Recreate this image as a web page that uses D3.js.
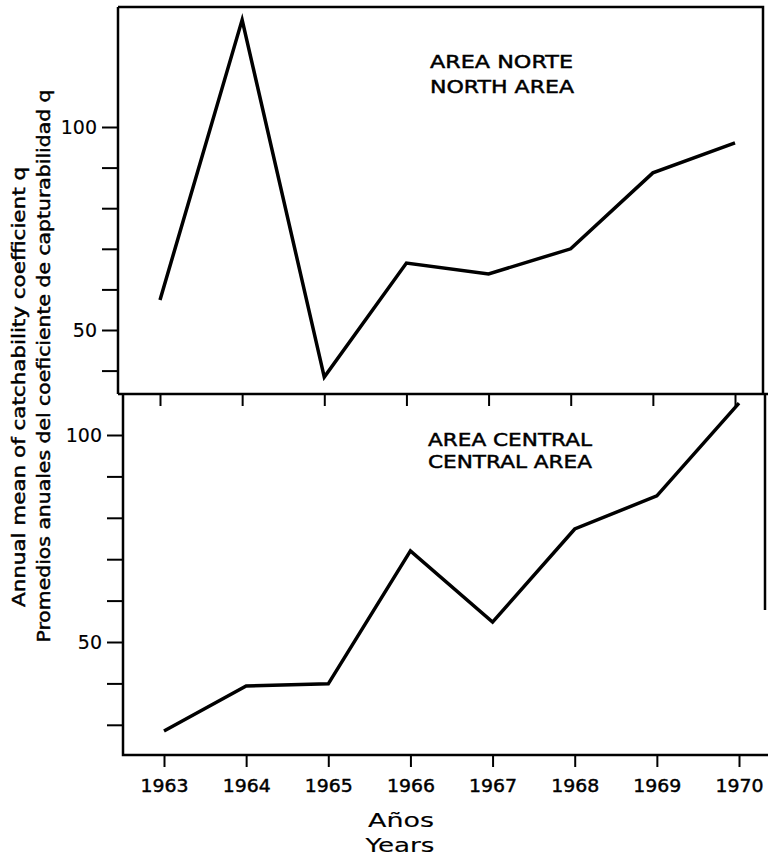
<!DOCTYPE html>
<html>
<head>
<meta charset="utf-8">
<script src="https://cdn.jsdelivr.net/npm/d3@7"></script>
<style>
  html, body { margin: 0; padding: 0; background: #fff; }
  svg { display: block; }
  text { font-family: "DejaVu Sans", sans-serif; fill: #000; stroke: #000; stroke-width: 0.45px; }
  text.thin { stroke-width: 0.15px; }
</style>
</head>
<body>
<svg id="chart" width="768" height="863"></svg>
<script>
// ---- data ----
const years = [1963, 1964, 1965, 1966, 1967, 1968, 1969, 1970];
const northValues = [57.4, 126.4, 38.4, 66.5, 63.8, 70.0, 88.7, 96.1];
const centralValues = [28.5, 39.4, 39.9, 72.0, 54.8, 77.3, 85.3, 107.7];
const northYTicks = [40, 50, 60, 70, 80, 90, 100];
const centralYTicks = [30, 40, 50, 60, 70, 80, 90, 100];
const labeledYTicks = [50, 100];
const northLabel = ["AREA NORTE", "NORTH AREA"];
const centralLabel = ["AREA CENTRAL", "CENTRAL AREA"];
const yTitle = ["Annual mean of catchability coefficient q",
                "Promedios anuales del coeficiente de capturabilidad q"];
const xTitle = ["Años", "Years"];

const svg = d3.select("#chart");

// ---- scales ----
const xTop = d3.scaleLinear().domain([1963, 1970]).range([160, 735]);
const xBot = d3.scaleLinear().domain([1963, 1970]).range([164, 739]);
const yTop = d3.scaleLinear().domain([50, 100]).range([330, 127]);
const yBot = d3.scaleLinear().domain([50, 100]).range([642, 435]);

// ---- frames ----
const frame = svg.append("g").attr("fill", "none").attr("stroke", "#000").attr("stroke-width", 2.5);
frame.append("path").attr("d", "M118,7 L763,7 L763,394 M118,7 L118,394 M118,394 L768,394");
frame.append("path").attr("d", "M123,394 L123,755 L768,755 M765,394 L765,610");

// ---- y axes ----
function yAxis(scale, ticks, xPos) {
  const g = svg.append("g").attr("transform", `translate(${xPos},0)`)
    .call(d3.axisLeft(scale).tickValues(ticks).tickSize(16).tickPadding(5)
      .tickFormat(d => labeledYTicks.includes(d) ? d : ""));
  g.select(".domain").remove();
  g.selectAll(".tick line").attr("stroke", "#000").attr("stroke-width", 2);
  g.selectAll(".tick text").attr("class", "thin").attr("font-size", 19).attr("font-family", "DejaVu Sans");
}
yAxis(yTop, northYTicks, 118);
yAxis(yBot, centralYTicks, 123);

// ---- x axes ----
const gxTop = svg.append("g").attr("transform", "translate(0,394)")
  .call(d3.axisBottom(xTop).tickValues(years).tickSize(12).tickFormat(""));
gxTop.select(".domain").remove();
gxTop.selectAll(".tick line").attr("stroke", "#000").attr("stroke-width", 2);

const gxBot = svg.append("g").attr("transform", "translate(0,755)")
  .call(d3.axisBottom(xBot).tickValues(years).tickSize(12).tickFormat(d3.format("d")));
gxBot.select(".domain").remove();
gxBot.selectAll(".tick line").attr("stroke", "#000").attr("stroke-width", 2);
gxBot.selectAll(".tick text").attr("y", 37).attr("dy", 0)
  .attr("font-size", 18).attr("font-family", "DejaVu Sans")
  .attr("textLength", 48).attr("lengthAdjust", "spacingAndGlyphs");

// ---- lines ----
const lineTop = d3.line().x((d, i) => xTop(years[i])).y(d => yTop(d));
const lineBot = d3.line().x((d, i) => xBot(years[i])).y(d => yBot(d));
svg.append("path").datum(northValues).attr("d", lineTop)
  .attr("fill", "none").attr("stroke", "#000").attr("stroke-width", 3.5).attr("stroke-linejoin", "miter");
svg.append("path").datum(centralValues).attr("d", lineBot)
  .attr("fill", "none").attr("stroke", "#000").attr("stroke-width", 3.5).attr("stroke-linejoin", "miter");

// ---- panel labels ----
svg.append("text").attr("x", 430).attr("y", 68).attr("font-size", 18)
  .attr("textLength", 143).attr("lengthAdjust", "spacingAndGlyphs").text(northLabel[0]);
svg.append("text").attr("x", 430).attr("y", 93).attr("font-size", 18)
  .attr("textLength", 144).attr("lengthAdjust", "spacingAndGlyphs").text(northLabel[1]);
svg.append("text").attr("x", 428).attr("y", 446).attr("font-size", 18)
  .attr("textLength", 164).attr("lengthAdjust", "spacingAndGlyphs").text(centralLabel[0]);
svg.append("text").attr("x", 428).attr("y", 468).attr("font-size", 18)
  .attr("textLength", 164).attr("lengthAdjust", "spacingAndGlyphs").text(centralLabel[1]);

// ---- axis titles ----
svg.append("text").attr("transform", "translate(25,387) rotate(-90)")
  .attr("text-anchor", "middle").attr("font-size", 17)
  .attr("textLength", 440).attr("lengthAdjust", "spacingAndGlyphs").text(yTitle[0]);
svg.append("text").attr("transform", "translate(50,366) rotate(-90)")
  .attr("text-anchor", "middle").attr("font-size", 17)
  .attr("textLength", 553).attr("lengthAdjust", "spacingAndGlyphs").text(yTitle[1]);

svg.append("text").attr("class", "thin").attr("x", 401).attr("y", 827).attr("text-anchor", "middle")
  .attr("font-size", 20).attr("textLength", 66).attr("lengthAdjust", "spacingAndGlyphs").text(xTitle[0]);
svg.append("text").attr("class", "thin").attr("x", 400).attr("y", 852).attr("text-anchor", "middle")
  .attr("font-size", 20).attr("textLength", 69).attr("lengthAdjust", "spacingAndGlyphs").text(xTitle[1]);
</script>
</body>
</html>
